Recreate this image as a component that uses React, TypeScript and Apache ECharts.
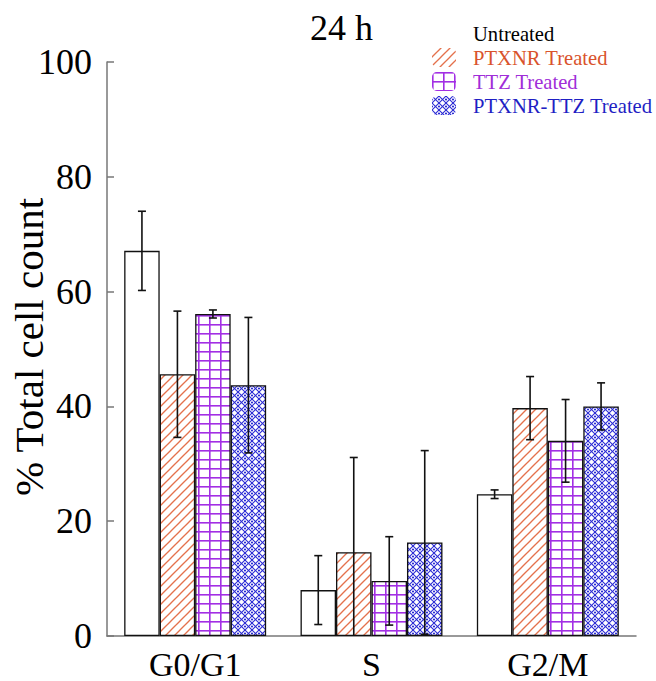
import React, { useEffect, useRef } from 'react';
import * as echarts from 'echarts';

const categories = ['G0/G1', 'S', 'G2/M'];
const seriesNames = ['Untreated', 'PTXNR Treated', 'TTZ Treated', 'PTXNR-TTZ Treated'];
const untreated = [67.1, 8.0, 24.7];
const untreatedErr = [6.9, 6.0, 0.75];
const ptxnr = [45.6, 14.6, 39.7];
const ptxnrErr = [11.0, 16.5, 5.5];
const ttz = [56.1, 9.6, 34.0];
const ttzErr = [0.7, 7.7, 7.2];
const combo = [43.7, 16.3, 40.0];
const comboErr = [11.8, 16.0, 4.1];
const yMin = 0;
const yMax = 100;
const yStep = 20;
const yAxisTitle = '% Total cell count';

const SERIF = 'Liberation Serif';
const CAT_GAP = 0.195;

const values = [untreated, ptxnr, ttz, combo];
const errors = [untreatedErr, ptxnrErr, ttzErr, comboErr];
const textColors = ['#000000', '#d9532c', '#a02ed8', '#1f1fc4'];

function makeTile(w: number, h: number, draw: (ctx: CanvasRenderingContext2D) => void) {
  const c = document.createElement('canvas');
  c.width = w;
  c.height = h;
  const ctx = c.getContext('2d')!;
  ctx.fillStyle = '#ffffff';
  ctx.fillRect(0, 0, w, h);
  draw(ctx);
  return c;
}

function hatchTile() {
  const s = 9;
  return makeTile(s, s, (ctx) => {
    ctx.strokeStyle = '#e4714c';
    ctx.lineWidth = 1.3;
    for (const o of [-s, 0, s]) {
      ctx.beginPath();
      ctx.moveTo(o - 1, s + 1);
      ctx.lineTo(o + s + 1, -1);
      ctx.stroke();
    }
  });
}

function gridTile() {
  return makeTile(11, 9, (ctx) => {
    ctx.fillStyle = '#a22fe4';
    ctx.fillRect(0, 0, 11, 1.6);
    ctx.fillRect(0, 0, 1.6, 9);
  });
}

function crossTile() {
  const s = 7;
  return makeTile(s, s, (ctx) => {
    ctx.strokeStyle = '#2a2ad4';
    ctx.lineWidth = 1.1;
    for (const o of [-s, 0, s]) {
      ctx.beginPath();
      ctx.moveTo(o - 1, -1);
      ctx.lineTo(o + s + 1, s + 1);
      ctx.stroke();
      ctx.beginPath();
      ctx.moveTo(o - 1, s + 1);
      ctx.lineTo(o + s + 1, -1);
      ctx.stroke();
    }
    ctx.fillStyle = '#2a2ad4';
    ctx.beginPath();
    ctx.arc(0, s / 2, 1.1, 0, Math.PI * 2);
    ctx.arc(s, s / 2, 1.1, 0, Math.PI * 2);
    ctx.fill();
  });
}

export default function App() {
  const ref = useRef<HTMLDivElement>(null);
  useEffect(() => {
    if (!ref.current) return;
    const chart = echarts.init(ref.current, null, { renderer: 'svg' });

    const fills: any[] = [
      '#ffffff',
      { image: hatchTile(), repeat: 'repeat' },
      { image: gridTile(), repeat: 'repeat' },
      { image: crossTile(), repeat: 'repeat' },
    ];

    const barSeries = seriesNames.map((name, k) => ({
      name,
      type: 'bar',
      data: values[k],
      barGap: '0%',
      barCategoryGap: `${CAT_GAP * 100}%`,
      itemStyle: {
        color: fills[k],
        borderColor: '#111111',
        borderWidth: 1.3,
      },
      emphasis: { disabled: true },
      z: 2,
    }));

    const errSeries = seriesNames.map((name, k) => ({
      name: 'err-' + name,
      type: 'custom',
      clip: true,
      z: 5,
      data: values[k].map((v, i) => [i, v, errors[k][i]]),
      renderItem: (params: any, api: any) => {
        const ci = api.value(0);
        const v = api.value(1);
        const e = api.value(2);
        const center = api.coord([ci, v]);
        const catW = api.size([1, 0])[0];
        const barW = (catW * (1 - CAT_GAP)) / 4;
        const x = center[0] + (k - 1.5) * barW;
        const top = api.coord([ci, v + e])[1];
        const bot = api.coord([ci, Math.max(yMin, v - e)])[1];
        const cap = 4;
        const style = { stroke: '#111111', lineWidth: 1.6 };
        return {
          type: 'group',
          children: [
            { type: 'line', shape: { x1: x, y1: top, x2: x, y2: bot }, style },
            { type: 'line', shape: { x1: x - cap, y1: top, x2: x + cap, y2: top }, style },
            { type: 'line', shape: { x1: x - cap, y1: bot, x2: x + cap, y2: bot }, style },
          ],
        };
      },
    }));

    chart.setOption({
      animation: false,
      backgroundColor: '#ffffff',
      title: {
        text: '24 h',
        left: 305,
        top: 5,
        textStyle: { fontFamily: SERIF, fontSize: 36, fontWeight: 'normal', color: '#000' },
      },
      legend: {
        orient: 'vertical',
        left: 427,
        top: 18,
        itemWidth: 24,
        itemHeight: 19,
        itemGap: 3,
        selectedMode: false,
        itemStyle: { borderWidth: 0 },
        textStyle: { fontFamily: SERIF, fontSize: 20.6, lineHeight: 21, padding: [0, 0, 0, 12] },
        data: seriesNames.map((n, k) => ({ name: n, textStyle: { color: textColors[k] } })),
      },
      graphic: [
        {
          type: 'text',
          x: 29,
          y: 347,
          rotation: Math.PI / 2,
          style: {
            text: yAxisTitle,
            fontFamily: SERIF,
            fontSize: 41,
            fill: '#000',
            align: 'center',
            verticalAlign: 'middle',
          },
        },
      ],
      grid: { left: 107, right: 20, top: 62, bottom: 45, outerBoundsMode: 'none', containLabel: false },
      xAxis: {
        type: 'category',
        data: categories,
        axisLine: { lineStyle: { color: '#777777', width: 1.5 } },
        axisTick: { show: false },
        axisLabel: { fontFamily: SERIF, fontSize: 34, color: '#000', margin: 11 },
      },
      yAxis: {
        type: 'value',
        min: yMin,
        max: yMax,
        interval: yStep,
        splitLine: { show: false },
        axisLine: { show: true, lineStyle: { color: '#777777', width: 1.5 } },
        axisTick: { show: true, inside: true, length: 7, lineStyle: { color: '#777777', width: 1.5 } },
        axisLabel: { fontFamily: SERIF, fontSize: 36, color: '#000', margin: 15 },
      },
      series: [...barSeries, ...errSeries],
    });
    return () => chart.dispose();
  }, []);
  return (
    <div
      ref={ref}
      style={{ position: 'absolute', left: 0, top: 0, width: 656, height: 681 }}
    />
  );
}
